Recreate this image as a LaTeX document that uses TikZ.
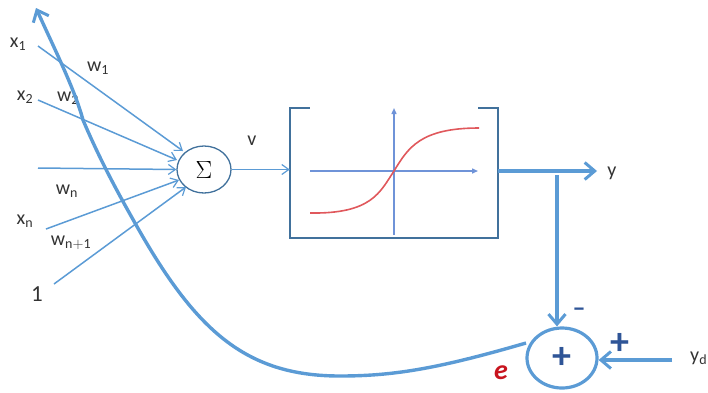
\documentclass[tikz,border=0pt]{standalone}
\usepackage{fontspec}
\setmainfont{Carlito}
\usetikzlibrary{arrows.meta,shapes.geometric}
\definecolor{lblue}{HTML}{5B9BD5}
\definecolor{boxblue}{HTML}{41719C}
\definecolor{axblue}{HTML}{6F93D8}
\definecolor{redc}{HTML}{E0585C}
\definecolor{plusb}{HTML}{2F5597}
\definecolor{txt}{HTML}{333333}
\definecolor{errred}{HTML}{C8141E}
\tikzset{
 thin line/.style={draw=lblue,line width=1.5pt,-{Straight Barb[length=7pt,width=10pt,line width=1.2pt]}},
 thick line/.style={draw=lblue,line width=3.2pt},
 thick arrow/.style={thick line,-{Straight Barb[length=10pt,width=17pt,line width=3pt]}},
 lbl/.style={text=txt,font=\fontsize{20}{22}\selectfont,inner sep=0pt},
 axis line/.style={draw=axblue,line width=1.4pt,-{Triangle[length=6pt,width=5pt]}},
}
\begin{document}
\begin{tikzpicture}[x=1pt,y=-1pt]
\useasboundingbox (0,0) rectangle (708,392);
% labels
\node[lbl] (lx1) at (18,44) {x$_{\mathrm{1}}$};
\node[lbl] (lw1) at (98,68) {w$_{\mathrm{1}}$};
\node[lbl] (lx2) at (25,97) {x$_{\mathrm{2}}$};
\node[lbl] (lw2) at (68,98) {w$_{\mathrm{2}}$};
\node[lbl] (lwn) at (67,191) {w$_{\mathrm{n}}$};
\node[lbl] (lxn) at (25,221) {x$_{\mathrm{n}}$};
\node[lbl] (lwn1) at (71,243) {w$_{\mathrm{n+1}}$};
\node[lbl,font=\fontsize{23}{24}\selectfont] (lone) at (37,294) {1};
\node[lbl] (lv) at (252,141) {v};
\node[lbl] (ly) at (612,173) {y};
\node[lbl,anchor=west] (lyd) at (690,358) {y$_{\mathrm{d}}$};
% nodes
\node[draw=boxblue,line width=1.3pt,ellipse,minimum width=54pt,minimum height=47pt,inner sep=0pt,font=\fontsize{25}{25}\selectfont] (sum) at (204,169.5) {$\Sigma$};
\node[minimum width=208pt,minimum height=130pt,inner sep=0pt] (box) at (394,173) {};
\node[draw=lblue,line width=3.2pt,ellipse,minimum width=70pt,minimum height=60pt,inner sep=0pt,text=plusb] (plus) at (562,358) {\fontsize{38}{38}\selectfont\textbf{+}};
% box outline with gap
\draw[boxblue,line width=1.6pt] ([xshift=20pt]box.north west) -- (box.north west) -- (box.south west) -- (box.south east) -- (box.north east) -- ([xshift=-20pt]box.north east);
% axes and curve
\coordinate (axl) at (310,171); \coordinate (axr) at (478,171);
\coordinate (axb) at (394,235); \coordinate (axt) at (394,108);
\draw[axis line] (axl) -- (axr);
\draw[axis line] (axb) -- (axt);
\coordinate (sl) at (310,213); \coordinate (sm) at (394,171); \coordinate (sr) at (479,128);
\draw[redc,line width=1.6pt] (sl) .. controls (372,214) and (380,192) .. (sm) .. controls (408,148) and (420,128) .. (sr);
% inputs
\coordinate (i1) at (38,46); \coordinate (i2) at (38,100); \coordinate (i3) at (38,168);
\coordinate (i4) at (46,229); \coordinate (i5) at (54,284);
\draw[thin line] (i1) -- (183,151);
\draw[thin line] (i2) -- (177,160);
\draw[thin line] (i3) -- (sum.west);
\draw[thin line] (i4) -- (179,180);
\draw[thin line] (i5) -- (186,187);
\draw[thin line] (sum.east) -- (box.west |- sum.east);
% outputs
\coordinate (yend) at (597,171);
\draw[thick arrow] (box.east |- yend) -- (yend);
\coordinate (tap) at (557,175);
\draw[thick arrow] (tap) -- (plus.north -| tap);
\coordinate (ydstart) at (672,360);
\draw[thick arrow] (ydstart) -- (plus.east |- ydstart);
% error feedback
\coordinate (e0) at (526,343); \coordinate (e1) at (340,376); \coordinate (e2) at (135,223);
\coordinate (e3) at (83,120); \coordinate (e4) at (60,62); \coordinate (tip) at (36,8);
\draw[thick arrow,line width=3.4pt]
 (e0) .. controls (440,368) and (395,376) .. (e1) .. controls (245,376) and (195,330) .. (e2) .. controls (118,193) and (100,160) .. (e3) .. controls (75,90) and (55,50) .. (tip);
% signs
\node[inner sep=0pt,text=plusb,font=\fontsize{26}{26}\selectfont\bfseries] (minus) at (579,312) {–};
\node[inner sep=0pt,text=plusb,font=\fontsize{38}{38}\selectfont\bfseries] (plussign) at (620,344) {+};
\node[inner sep=0pt,text=errred,font=\fontsize{28}{28}\selectfont\bfseries\itshape] (err) at (501,373) {e};
\end{tikzpicture}
\end{document}
